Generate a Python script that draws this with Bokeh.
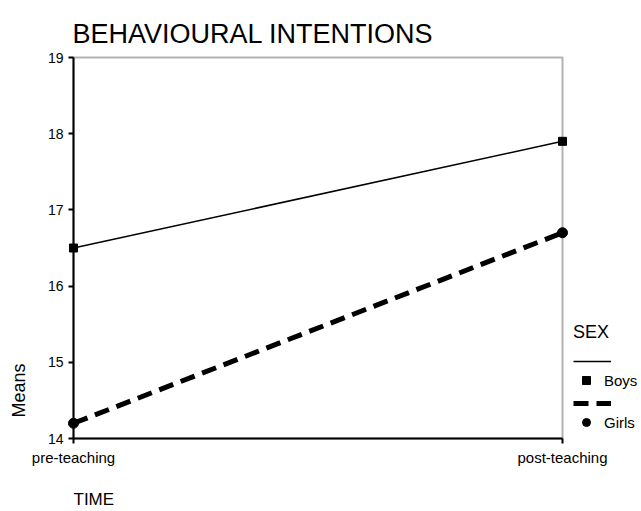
import math
from bokeh.plotting import figure
from bokeh.models import (Range1d, FixedTicker, Label, Legend, LegendItem,
                          ColumnDataSource, BoxAnnotation)
from bokeh.embed import file_html
from bokeh.resources import INLINE

# ---- data ----
time_labels = ["pre-teaching", "post-teaching"]
boys = [16.5, 17.9]
girls = [14.2, 16.7]
y_ticks = [14, 15, 16, 17, 18, 19]
series_names = ["Boys", "Girls"]

FONT = "Liberation Sans"
x_pos = list(range(len(time_labels)))

# ---- layout (pixels of the page) ----
W, H = 641, 511
BOX_L, BOX_R, BOX_T, BOX_B = 73, 562, 57, 438

x0, x1 = x_pos[0], x_pos[-1]
y0, y1 = min(y_ticks), max(y_ticks)
xs = (x1 - x0) / (BOX_R - BOX_L)
ys = (y1 - y0) / (BOX_B - BOX_T)
x_range = Range1d(x0 - BOX_L * xs, x1 + (W - BOX_R) * xs)
y_range = Range1d(y0 - (H - BOX_B) * ys, y1 + BOX_T * ys)

src = ColumnDataSource(dict(x=x_pos, boys=boys, girls=girls))

p = figure(width=W, height=H, min_border=0,
           output_backend="svg", toolbar_location=None,
           x_range=x_range, y_range=y_range)

p.background_fill_color = "white"
p.border_fill_color = "white"
p.outline_line_color = None
p.xgrid.visible = False
p.ygrid.visible = False

for ax in (p.xaxis[0], p.yaxis[0]):
    ax.axis_line_color = "black"
    ax.axis_line_width = 2
    ax.major_tick_line_color = "black"
    ax.major_tick_line_width = 2
    ax.major_tick_out = 5
    ax.major_tick_in = 0
    ax.minor_tick_line_color = None
    ax.major_label_text_color = "black"
    ax.major_label_text_font = FONT
    ax.major_label_standoff = 5

p.yaxis[0].ticker = FixedTicker(ticks=y_ticks)
p.yaxis[0].bounds = (y0, y1)
p.yaxis[0].fixed_location = x0
p.yaxis[0].major_label_text_font_size = "14px"
p.xaxis[0].ticker = FixedTicker(ticks=x_pos)
p.xaxis[0].bounds = (x0, x1)
p.xaxis[0].fixed_location = y0
p.xaxis[0].major_label_overrides = {i: t for i, t in zip(x_pos, time_labels)}
p.xaxis[0].major_label_text_font_size = "15px"

# frame box around the data area
p.add_layout(BoxAnnotation(left=x0, right=x1, bottom=y0, top=y1,
                           fill_alpha=0, line_color="black", line_width=2))

# ---- series ----
boys_line = p.line("x", "boys", source=src, line_color="black", line_width=1.5)
boys_pts = p.scatter("x", "boys", source=src, marker="square", size=8,
                     fill_color="black", line_color="black")
girls_line = p.line("x", "girls", source=src, line_color="black", line_width=5,
                    line_dash="15 8")
girls_pts = p.scatter("x", "girls", source=src, marker="circle", size=10,
                      fill_color="black", line_color="black")

# ---- legends ----
leg_lines = Legend(items=[LegendItem(label=" ", renderers=[boys_line]),
                          LegendItem(label=" ", renderers=[girls_line])],
                   location=(573, H - 413), title="SEX",
                   title_text_font=FONT, title_text_font_size="18px", title_text_font_style="normal",
                   title_text_color="black", title_standoff=8,
                   glyph_width=38, glyph_height=20, label_height=20, label_width=1,
                   label_text_font_size="1px", spacing=22, padding=0, margin=0,
                   border_line_alpha=0, background_fill_alpha=0, label_standoff=0)
leg_pts = Legend(items=[LegendItem(label=series_names[0], renderers=[boys_pts]),
                        LegendItem(label=series_names[1], renderers=[girls_pts])],
                 location=(573, H - 432),
                 glyph_width=26, glyph_height=20, label_height=20, spacing=22,
                 padding=0, margin=0, label_standoff=5,
                 label_text_font=FONT, label_text_font_size="15px", label_text_color="black",
                 border_line_alpha=0, background_fill_alpha=0)
p.add_layout(leg_lines, "center")
p.add_layout(leg_pts, "center")

# ---- texts ----
p.add_layout(Label(x=72, y=H - 33, x_units="screen", y_units="screen",
                   text="BEHAVIOURAL INTENTIONS", text_font=FONT, text_font_size="27px",
                   text_color="black", text_baseline="alphabetic", text_align="left"))
p.add_layout(Label(x=18, y=H - 390, x_units="screen", y_units="screen", angle=math.pi / 2,
                   text="Means", text_font=FONT, text_font_size="18px",
                   text_color="black", text_baseline="middle", text_align="center"))
p.add_layout(Label(x=73, y=H - 499, x_units="screen", y_units="screen",
                   text="TIME", text_font=FONT, text_font_size="17px",
                   text_color="black", text_baseline="alphabetic", text_align="left"))

open("out.html", "w").write(file_html(p, INLINE))
